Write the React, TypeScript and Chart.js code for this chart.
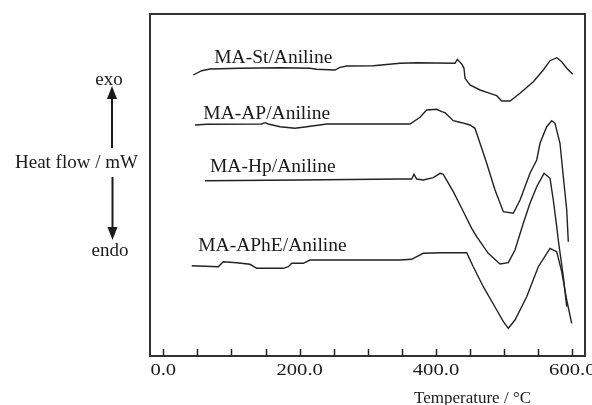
import React, { useEffect, useRef } from "react";
import { Chart, registerables } from "chart.js";

Chart.register(...registerables);

// Temperature (°C) and heat flow (arbitrary units, up = exo)
const stT = [44.0, 56.3, 68.5, 112.5, 171.2, 215.2, 225.0, 251.9, 259.2, 269.0, 308.1, 347.2, 371.7, 427.9, 431.3, 437.7, 441.1, 442.6, 449.9, 464.6, 479.2, 489.1, 496.4, 508.6, 523.3, 542.8, 557.4, 567.3, 577.1, 584.4, 591.8, 600.6];
const stH = [281, 285.3, 287, 287.7, 288.3, 287.7, 286.7, 286, 288.7, 290, 290.3, 292.7, 293.3, 292.7, 296.7, 292, 287.7, 277.7, 271, 266, 262.7, 260.3, 255, 255, 262.7, 274.3, 286, 295.3, 298.3, 294.3, 287.7, 281.7];

const apT = [46.5, 63.7, 144.3, 149.2, 154.0, 171.2, 193.2, 210.4, 239.7, 308.1, 361.9, 376.6, 386.4, 401.1, 408.4, 413.2, 425.4, 437.7, 449.9, 457.2, 464.6, 474.4, 486.6, 498.8, 513.4, 523.3, 537.9, 547.8, 552.6, 562.4, 569.8, 574.6, 581.9, 586.8, 591.8, 594.1];
const apH = [231, 231.7, 232, 233.3, 232, 229.3, 227.7, 229.3, 232, 232, 232, 238.7, 246, 246.7, 244.3, 243.3, 235.3, 233.3, 231, 227.7, 212.7, 192.7, 166, 144.3, 142.7, 156, 182.7, 196, 212.7, 229.3, 235.3, 232.7, 212.7, 179.3, 146, 114.3];

const hpT = [61.2, 200.0, 347.2, 364.4, 367.8, 371.7, 381.4, 396.1, 405.9, 410.7, 425.4, 437.7, 452.4, 459.7, 476.7, 493.9, 506.1, 515.9, 528.1, 537.9, 547.8, 558.5, 567.3, 572.1, 577.1, 579.4, 586.8, 591.8];
const hpH = [175.3, 176, 177, 177, 181.7, 177, 176, 178.3, 182.7, 181.7, 164.3, 147.7, 127.7, 119.3, 102.7, 92, 93.3, 106, 132.7, 152.7, 169.3, 182.7, 177.7, 156, 129.3, 116, 79.3, 49.3];

const aphT = [41.7, 80.7, 88.0, 107.7, 127.2, 137.0, 176.0, 183.4, 188.4, 205.4, 215.2, 259.2, 347.2, 364.4, 371.7, 381.4, 408.4, 445.1, 454.7, 469.4, 489.1, 498.8, 506.1, 515.9, 533.1, 550.1, 567.3, 577.1, 584.4, 591.8, 599.1];
const aphH = [90.3, 89.3, 94.3, 93.3, 91.7, 87.7, 87.7, 89.3, 92.7, 92.7, 96, 96, 96, 96.7, 99.3, 102.7, 103.3, 103.3, 89.3, 69.3, 46, 34.3, 27.7, 36, 59.3, 89.3, 107.7, 104.3, 84.3, 56, 32.7];

const seriesNames = ["MA-St/Aniline", "MA-AP/Aniline", "MA-Hp/Aniline", "MA-APhE/Aniline"];
// label anchor (left edge temperature, baseline heat flow)
const labelT = [74.7, 58.7, 68.5, 51.3];
const labelH = [293.3, 236.7, 184.3, 105.3];

const xTickValues = [0, 200, 400, 600];
const xMinorTicks = [0, 50, 100, 150, 200, 250, 300, 350, 400, 450, 500, 550, 600];
const xTitle = "Temperature / °C";
const yTitle = "Heat flow / mW";

const FONT = "'Liberation Serif', 'Times New Roman', serif";
const INK = "#1a1a1a";

function pts(t: number[], h: number[]) {
  return t.map((v, i) => ({ x: v, y: h[i] }));
}

export default function App() {
  const ref = useRef<HTMLCanvasElement | null>(null);

  useEffect(() => {
    const canvas = ref.current;
    if (!canvas) return;

    const deco = {
      id: "deco",
      afterDraw(chart: any) {
        const ctx = chart.ctx;
        const a = chart.chartArea;
        const xs = chart.scales.x;
        const ys = chart.scales.y;
        ctx.save();
        // frame
        ctx.strokeStyle = "#333";
        ctx.lineWidth = 2;
        ctx.strokeRect(a.left, a.top, a.right - a.left, a.bottom - a.top);
        // inward tick marks
        ctx.lineWidth = 1.5;
        ctx.strokeStyle = "#222";
        ctx.beginPath();
        xMinorTicks.forEach((v) => {
          const px = Math.round(xs.getPixelForValue(v)) + 0.5;
          ctx.moveTo(px, a.bottom);
          ctx.lineTo(px, a.bottom - 7);
        });
        ctx.stroke();
        // tick labels (slightly wide digits as in the reference)
        ctx.fillStyle = INK;
        ctx.font = `17.5px ${FONT}`;
        ctx.textAlign = "center";
        ctx.textBaseline = "alphabetic";
        xTickValues.forEach((v) => {
          const px = xs.getPixelForValue(v);
          ctx.save();
          ctx.translate(px, a.bottom + 19);
          ctx.scale(1.18, 1);
          ctx.fillText(v.toFixed(1), 0, 0);
          ctx.restore();
        });
        // axis title
        ctx.font = `17px ${FONT}`;
        ctx.fillText(xTitle, xs.getPixelForValue(453.6), 403);
        // series labels
        ctx.font = `19.5px ${FONT}`;
        ctx.textAlign = "left";
        seriesNames.forEach((n, i) => {
          ctx.fillText(n, xs.getPixelForValue(labelT[i]), ys.getPixelForValue(labelH[i]));
        });
        // left annotations
        ctx.font = `19px ${FONT}`;
        ctx.textAlign = "center";
        ctx.fillText("exo", 109, 85);
        ctx.fillText("endo", 110, 256);
        ctx.textAlign = "left";
        ctx.fillText(yTitle, 15, 168);
        // arrows
        ctx.strokeStyle = INK;
        ctx.lineWidth = 2;
        ctx.beginPath();
        ctx.moveTo(112, 148);
        ctx.lineTo(112, 96);
        ctx.moveTo(112.5, 177);
        ctx.lineTo(112.5, 230);
        ctx.stroke();
        ctx.beginPath();
        ctx.moveTo(112, 86);
        ctx.lineTo(107, 99);
        ctx.lineTo(117, 99);
        ctx.closePath();
        ctx.fill();
        ctx.beginPath();
        ctx.moveTo(112.5, 240);
        ctx.lineTo(107.5, 227);
        ctx.lineTo(117.5, 227);
        ctx.closePath();
        ctx.fill();
        ctx.restore();
      },
    };

    const mk = (d: { x: number; y: number }[]) => ({
      data: d,
      borderColor: "#222",
      borderWidth: 1.4,
      pointRadius: 0,
      tension: 0,
      fill: false,
    });

    const chart = new Chart(canvas, {
      type: "line",
      data: {
        datasets: [mk(pts(stT, stH)), mk(pts(apT, apH)), mk(pts(hpT, hpH)), mk(pts(aphT, aphH))],
      },
      options: {
        animation: false,
        responsive: false,
        maintainAspectRatio: false,
        layout: { padding: { left: 150, top: 14, right: 7, bottom: 0 } },
        plugins: { legend: { display: false }, tooltip: { enabled: false } },
        scales: {
          x: {
            type: "linear",
            min: -19.5,
            max: 618.6,
            grid: { display: false, drawTicks: false },
            border: { display: false },
            ticks: { display: false },
            afterFit: (s: any) => {
              s.height = 49;
              s.paddingLeft = 0;
              s.paddingRight = 0;
            },
          },
          y: {
            type: "linear",
            min: 0,
            max: 342,
            display: false,
          },
        },
      },
      plugins: [deco],
    } as any);

    return () => chart.destroy();
  }, []);

  return (
    <div style={{ position: "absolute", left: 0, top: 0, width: 592, height: 405, background: "#fff" }}>
      <canvas ref={ref} width={592} height={405} style={{ display: "block" }} />
    </div>
  );
}
